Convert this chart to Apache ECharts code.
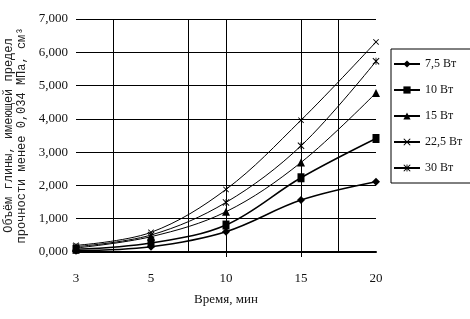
<!DOCTYPE html>
<html>
<head>
<meta charset="utf-8">
<script src="https://cdn.jsdelivr.net/npm/echarts@6/dist/echarts.min.js"></script>
<style>
  html, body { margin: 0; padding: 0; background: #fff; }
  #chart { width: 470px; height: 319px; }
</style>
</head>
<body>
<div id="chart"></div>
<script>
// время, мин
const categories = ['3', '5', '10', '15', '20']
const seriesNames = ['7,5 Вт', '10 Вт', '15 Вт', '22,5 Вт', '30 Вт']
// объём глины, см3
const vol75 = [0.04, 0.16, 0.61, 1.56, 2.11]
const vol10 = [0.08, 0.27, 0.81, 2.23, 3.41]
const vol15 = [0.12, 0.46, 1.21, 2.69, 4.78]
const vol225 = [0.20, 0.59, 1.88, 3.96, 6.31]
const vol30 = [0.16, 0.51, 1.49, 3.19, 5.73]
const yTicks = [0, 1, 2, 3, 4, 5, 6, 7]

const font = 'Liberation Serif'
const crossPath = 'path://M0,1L1,0L5,4L9,0L10,1L6,5L10,9L9,10L5,6L1,10L0,9L4,5Z'
const starPath = 'path://M0,1L1,0L5,4L9,0L10,1L6,5L10,9L9,10L5,6L1,10L0,9L4,5Z M4.4,0H5.6V10H4.4Z'

function makeSeries(name, data, symbol, size, width) {
  return {
    name: name,
    type: 'line',
    data: data,
    smooth: 0.35,
    symbol: symbol,
    symbolSize: size,
    showAllSymbol: true,
    lineStyle: { color: '#000', width: width },
    itemStyle: { color: '#000', borderWidth: 0 },
    emphasis: { disabled: true },
    animation: false
  }
}

const chart = echarts.init(document.getElementById('chart'))
chart.setOption({
  backgroundColor: '#fff',
  textStyle: { fontFamily: font, color: '#111' },
  grid: { left: 76, right: 94, top: 19, bottom: 67, containLabel: false, outerBoundsMode: 'none' },
  legend: {
    orient: 'vertical',
    left: 391,
    top: 49,
    itemWidth: 26,
    itemHeight: 9,
    itemGap: 14,
    padding: [9, 30, 9, 2],
    borderColor: '#000',
    borderWidth: 1,
    textStyle: { fontFamily: font, fontSize: 12, color: '#111' },
    data: seriesNames
  },
  xAxis: [
    {
      type: 'category',
      data: categories,
      boundaryGap: false,
      name: 'Время, мин',
      nameLocation: 'middle',
      nameGap: 41,
      nameTextStyle: { fontFamily: font, fontSize: 13, color: '#111' },
      axisLine: { lineStyle: { color: '#000', width: 2 } },
      axisTick: {
        show: true,
        length: 5,
        interval: function (i) { return i === 2 || i === 3 },
        lineStyle: { color: '#000' }
      },
      axisLabel: { margin: 20, fontFamily: font, fontSize: 13, color: '#111' },
      splitLine: { show: false }
    },
    {
      // половинные шаги, только для вертикальной сетки
      type: 'category',
      data: ['', '', '', '', '', '', '', '', ''],
      boundaryGap: false,
      position: 'bottom',
      axisLine: { show: false },
      axisTick: { show: false },
      axisLabel: { show: false },
      splitLine: {
        show: true,
        interval: function (i) { return [1, 3, 4, 6, 7].indexOf(i) >= 0 },
        lineStyle: { color: '#000', width: 1 }
      }
    }
  ],
  yAxis: {
    type: 'value',
    min: yTicks[0],
    max: yTicks[yTicks.length - 1],
    interval: 1,
    name: 'Объём глины, имеющей предел\nпрочности менее 0,034 МПа, см³',
    nameLocation: 'middle',
    nameRotate: 90,
    nameGap: 48,
    nameTextStyle: { fontFamily: 'Liberation Mono', fontSize: 12, color: '#222', lineHeight: 13 },
    axisLine: { show: false },
    axisTick: { show: false },
    axisLabel: {
      margin: 8,
      fontFamily: font,
      fontSize: 13,
      color: '#111',
      formatter: function (v) { return v.toFixed(3).replace('.', ',') }
    },
    splitLine: { show: true, lineStyle: { color: '#000', width: 1 } }
  },
  series: [
    makeSeries(seriesNames[0], vol75, 'diamond', 8, 1.5),
    makeSeries(seriesNames[1], vol10, 'rect', [7, 9], 1.5),
    makeSeries(seriesNames[2], vol15, 'triangle', 8, 1),
    makeSeries(seriesNames[3], vol225, crossPath, 6, 1),
    makeSeries(seriesNames[4], vol30, starPath, 7, 1)
  ]
})
</script>
</body>
</html>
